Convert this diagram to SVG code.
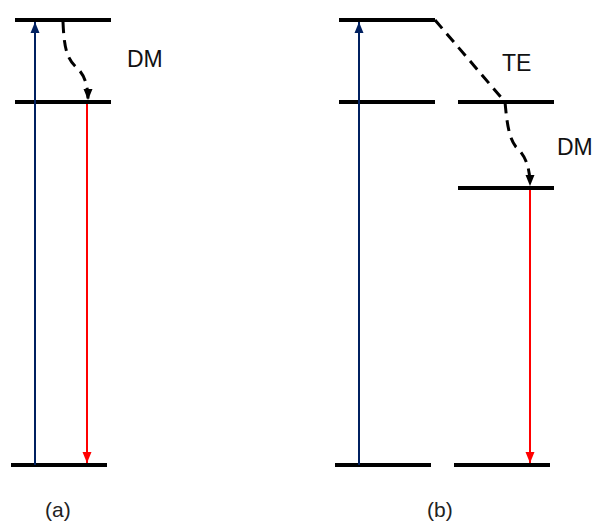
<svg xmlns="http://www.w3.org/2000/svg" width="595" height="522" viewBox="0 0 595 522">
<defs>
<style>
.lvl{stroke:#000;stroke-width:4;fill:none}
.blue{stroke:#002060;stroke-width:2;fill:none}
.red{stroke:#FF0000;stroke-width:2;fill:none}
.dash{stroke:#000;stroke-width:3;fill:none;stroke-dasharray:11 7}
.lbl{font-family:"Liberation Sans",Arial,sans-serif;font-size:23px;fill:#111}
.cap{font-family:"Liberation Sans",Arial,sans-serif;font-size:21px;fill:#222}
</style>
<marker id="ab" markerUnits="userSpaceOnUse" markerWidth="12" markerHeight="12" viewBox="0 0 12 12" refX="11" refY="6" orient="auto"><path d="M0,1.5 L11,6 L0,10.5 Z" fill="#002060"/></marker>
<marker id="ar" markerUnits="userSpaceOnUse" markerWidth="12" markerHeight="12" viewBox="0 0 12 12" refX="11" refY="6" orient="auto"><path d="M0,1.5 L11,6 L0,10.5 Z" fill="#FF0000"/></marker>
<marker id="ak" markerUnits="userSpaceOnUse" markerWidth="12" markerHeight="12" viewBox="0 0 12 12" refX="11" refY="6" orient="auto"><path d="M0,1.5 L11,6 L0,10.5 Z" fill="#000"/></marker>
</defs>
<g id="levels">
<g id="a-top"><line class="lvl" x1="15" y1="20" x2="111" y2="20"/></g>
<g id="a-mid"><line class="lvl" x1="15" y1="102" x2="111" y2="102"/></g>
<g id="a-bot"><line class="lvl" x1="11" y1="465" x2="107" y2="465"/></g>
<g id="b-top"><line class="lvl" x1="339" y1="20" x2="435" y2="20"/></g>
<g id="b-mid-left"><line class="lvl" x1="339" y1="102" x2="435" y2="102"/></g>
<g id="b-mid-right"><line class="lvl" x1="458" y1="102" x2="554" y2="102"/></g>
<g id="b-low-right"><line class="lvl" x1="458" y1="188" x2="554" y2="188"/></g>
<g id="b-bot-left"><line class="lvl" x1="335" y1="465" x2="431" y2="465"/></g>
<g id="b-bot-right"><line class="lvl" x1="454" y1="465" x2="550" y2="465"/></g>
</g>
<g id="connectors">
<line class="blue" x1="35" y1="465" x2="35" y2="22" marker-end="url(#ab)"/>
<line class="red" x1="87" y1="104" x2="87" y2="463" marker-end="url(#ar)"/>
<path class="dash" d="M63,22 C64,45 66,58 76,67 C84,74 88,84 88,100" marker-end="url(#ak)"/>
<line class="blue" x1="359" y1="465" x2="359" y2="22" marker-end="url(#ab)"/>
<line class="red" x1="530" y1="190" x2="530" y2="463" marker-end="url(#ar)"/>
<path class="dash" d="M435,20 L505,102 C507,124 509,138 516,147 C526,156 530,168 530,186" marker-end="url(#ak)"/>
</g>
<g id="labels">
<text class="lbl" x="127" y="67">DM</text>
<text class="lbl" x="502" y="71">TE</text>
<text class="lbl" x="557" y="155">DM</text>
<text class="cap" x="45" y="517">(a)</text>
<text class="cap" x="427" y="517">(b)</text>
</g>
</svg>
